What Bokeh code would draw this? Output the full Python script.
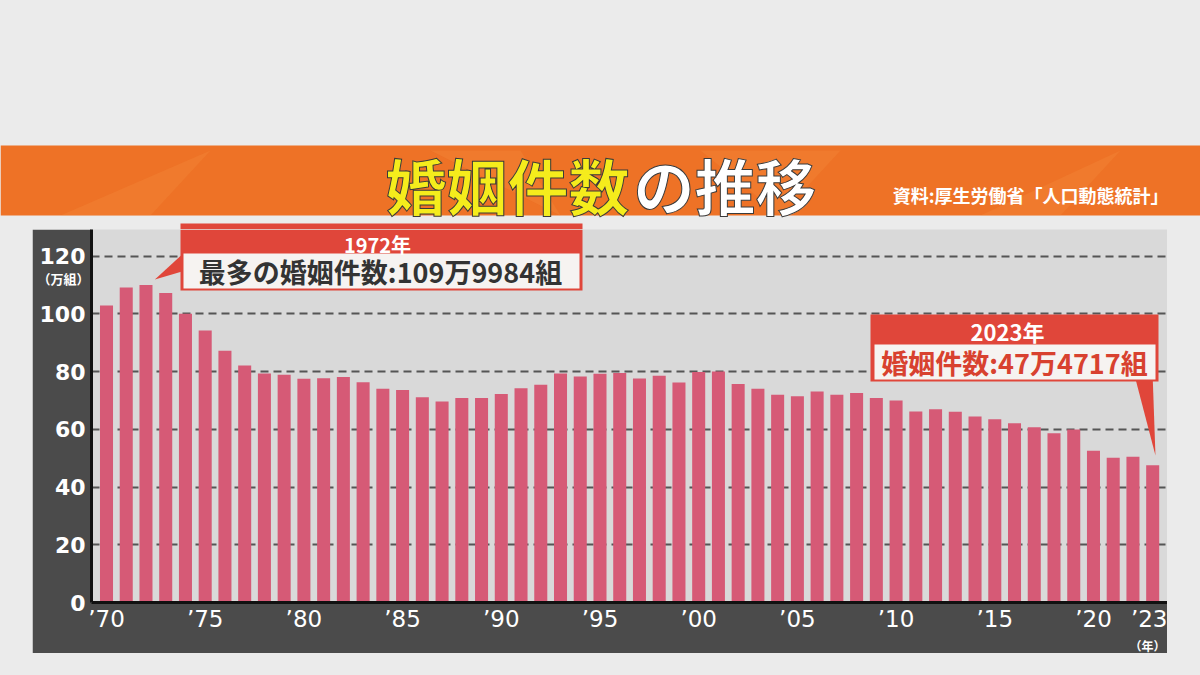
from bokeh.plotting import figure
from bokeh.layouts import column
from bokeh.models import Range1d, FixedTicker, BoxAnnotation, PolyAnnotation, Label, LinearAxis, Title
from bokeh.embed import file_html
from bokeh.resources import INLINE

# ---- data (万組) ----
years = list(range(1970, 2024))
marriages = [
    102.9, 109.1, 110.0, 107.2, 100.0, 94.2, 87.2, 82.1, 79.3, 78.9,
    77.5, 77.7, 78.1, 76.3, 74.0, 73.6, 71.1, 69.6, 70.8, 70.8,
    72.2, 74.2, 75.4, 79.3, 78.3, 79.2, 79.5, 77.6, 78.5, 76.2,
    79.8, 80.0, 75.7, 74.0, 72.0, 71.4, 73.1, 72.0, 72.6, 70.8,
    70.0, 66.2, 66.9, 66.1, 64.4, 63.5, 62.1, 60.7, 58.6, 59.9,
    52.6, 50.1, 50.5, 47.5,
]
x_ticks = [1970, 1975, 1980, 1985, 1990, 1995, 2000, 2005, 2010, 2015, 2020, 2023]
x_tick_labels = ["’70", "’75", "’80", "’85", "’90", "’95", "’00", "’05", "’10", "’15", "’20", "’23"]
y_ticks = [0, 20, 40, 60, 80, 100, 120]

title_main = "婚姻件数"
title_rest = "の推移"
source_text = "資料:厚生労働省「人口動態統計」"
peak_year_text = "1972年"
peak_text = "最多の婚姻件数:109万9984組"
last_year_text = "2023年"
last_text = "婚姻件数:47万4717組"
y_unit = "（万組）"
x_unit = "（年）"

JP = "Noto Sans CJK JP"
BAR = "#d65a76"
RED = "#e0463a"
DARK = "#4b4b4b"
PAGE = "#ebebeb"
PAPER = "#f6f3f1"

# ================= header (banner + title) =================
H = figure(width=1200, height=229, x_range=Range1d(0, 1200), y_range=Range1d(229, 0),
           output_backend="svg", toolbar_location=None, min_border=0,
           x_axis_location=None, y_axis_location=None,
           background_fill_color=PAGE, border_fill_color=PAGE, outline_line_color=None)
H.grid.visible = False
H.quad(left=[0], right=[1200], top=[145], bottom=[215], fill_color="#ee7226", line_color=None)
# subtle lighter facets on the banner
H.patches(xs=[[60, 210, 150], [430, 560, 520], [980, 1120, 1060], [700, 840, 780]],
          ys=[[215, 150, 215], [150, 215, 150], [215, 150, 215], [150, 150, 215]],
          fill_color="#f7a050", fill_alpha=0.18, line_color=None)
# top strip of the 1972 call-out that pokes above the chart
H.quad(left=[180], right=[582], top=[223], bottom=[229], fill_color=RED, line_color=None)

def hlabel(text, x, y, size, color, align="center", outline=None):
    kw = dict(x=x, y=y, text=text, text_font=JP, text_font_size=f"{size}px",
              text_color=color, text_align=align, text_baseline="middle",
              text_font_style="bold")
    if outline:
        kw["text_outline_color"] = outline
    H.add_layout(Label(**kw))

hlabel(title_main, 629, 184, 61, "#f5ec1c", align="right", outline="#3a3a3a")
hlabel(title_rest, 633, 184, 61, "white", align="left", outline="#3a3a3a")
hlabel(source_text, 1168, 194, 18, "white", align="right")

# ================= chart =================
p = figure(
    width=1135, height=424,
    x_range=Range1d(1969.24, 2023.75), y_range=Range1d(0, 129.2),
    output_backend="svg", toolbar_location=None,
    min_border_left=59, min_border_right=0, min_border_top=0, min_border_bottom=51,
    border_fill_color=DARK, background_fill_color="#d9d9d9",
    outline_line_color=None,
)
p.margin = (0, 33, 22, 32)

p.vbar(x=years, top=marriages, width=0.66, fill_color=BAR, line_color=None)

p.xaxis.ticker = FixedTicker(ticks=x_ticks)
p.xaxis.major_label_overrides = {t: l for t, l in zip(x_ticks, x_tick_labels)}
p.yaxis.ticker = FixedTicker(ticks=y_ticks)
for ax in (p.xaxis, p.yaxis):
    ax.axis_line_color = "#111111"
    ax.axis_line_width = 3
    ax.major_tick_line_color = None
    ax.minor_tick_line_color = None
    ax.major_tick_out = 0
    ax.major_tick_in = 0
    ax.major_label_text_color = "white"
    ax.major_label_text_font = "DejaVu Sans"
    ax.major_label_text_font_size = "22px"
p.yaxis.major_label_text_font_style = "bold"
p.xaxis.major_label_text_font_size = "23px"
p.yaxis.major_label_standoff = 6
p.xaxis.major_label_standoff = 3

# unit of the value axis, as a second (label-only) axis
unit_axis = LinearAxis(ticker=FixedTicker(ticks=[112.3]),
                       major_label_overrides={112.3: y_unit},
                       axis_line_color=None, major_tick_line_color=None,
                       minor_tick_line_color=None, major_tick_out=0, major_tick_in=0,
                       major_label_text_color="white", major_label_text_font=JP,
                       major_label_text_font_style="bold",
                       major_label_text_font_size="13px",
                       major_label_standoff=-53)
p.add_layout(unit_axis, "left")

# unit of the year axis
p.add_layout(Title(text=x_unit, align="right", text_font=JP, text_font_size="12px",
                   text_color="white", standoff=0, offset=2), "below")

p.xgrid.grid_line_color = None
p.ygrid.ticker = FixedTicker(ticks=y_ticks[1:])
p.ygrid.grid_line_color = "#555555"
p.ygrid.grid_line_width = 2
p.ygrid.grid_line_dash = "8 5"

def cbox(l, r, t, b, color):
    p.add_layout(BoxAnnotation(left=l, right=r, top=t, bottom=b,
                               left_units="canvas", right_units="canvas",
                               top_units="canvas", bottom_units="canvas",
                               fill_color=color, fill_alpha=1, line_color=None))

def clabel(text, x, y, size, color):
    p.add_layout(Label(x=x, y=y, x_units="canvas", y_units="canvas", text=text,
                       text_font=JP, text_font_size=f"{size}px", text_color=color,
                       text_align="center", text_baseline="middle",
                       text_font_style="bold"))

# call-out 1 (peak year)
i_peak = marriages.index(max(marriages))
p.add_layout(PolyAnnotation(xs=[1974.0, 1974.0, years[i_peak] + 0.45],
                            ys=[121.6, 115.0, marriages[i_peak] + 1.9],
                            fill_color=RED, fill_alpha=1, line_color=None))
cbox(148, 550, 0, 61, RED)
cbox(151, 547, 24, 59, PAPER)
clabel(peak_year_text, 345, 15, 20, "white")
clabel(peak_text, 348, 42, 27, "#333333")

# call-out 2 (latest year)
i_last = len(marriages) - 1
p.add_layout(PolyAnnotation(xs=[2022.03, 2022.99, years[i_last] + 0.14],
                            ys=[80.0, 80.0, marriages[i_last] + 3.4],
                            fill_color=RED, fill_alpha=1, line_color=None))
cbox(838, 1126, 85, 152, RED)
cbox(842, 1123, 115, 150, PAPER)
clabel(last_year_text, 975, 101, 22, "white")
clabel(last_text, 982, 133, 27, "#d8412f")

# nest each figure in its own column so their frames are not aligned to each other
layout = column(column(H), column(p), styles={"background-color": PAGE})
open("out.html", "w").write(file_html(layout, INLINE))
